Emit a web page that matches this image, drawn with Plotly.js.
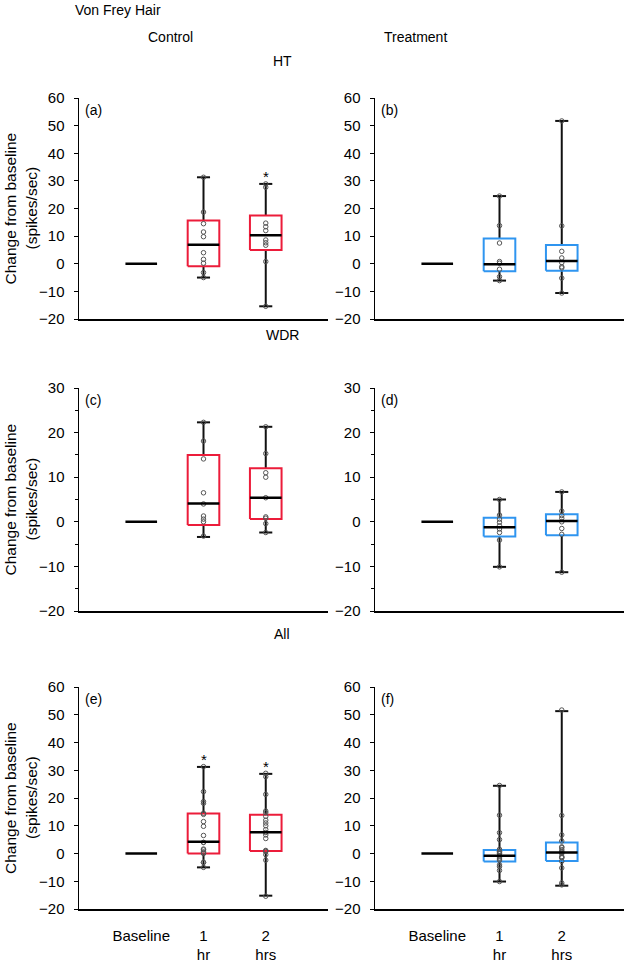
<!DOCTYPE html>
<html>
<head>
<meta charset="utf-8">
<script src="https://cdn.plot.ly/plotly-3.0.1.min.js"></script>
<style>html,body{margin:0;padding:0;background:#fff;}#chart{width:625px;height:964px;}</style>
</head>
<body>
<div id="chart"></div>
<script>
// ---------- DATA ----------
const timepoints = ['Baseline', '1<br>hr', '2<br>hrs'];

// (a) HT - Control
const a_upper  = [0, 31.3, 28.9];
const a_q3     = [0, 15.7, 17.5];
const a_median = [0, 6.9, 10.3];
const a_q1     = [0, -0.9, 5.0];
const a_lower  = [0, -5.0, -15.4];
const a_pts1   = [31.3, 18.7, 14.5, 11.5, 9.8, 4.0, 1.6, 0.2, -3.2, -5.0];
const a_pts2   = [28.9, 27.7, 14.7, 13.4, 12.0, 8.6, 7.6, 6.7, 0.8, -15.4];
const a_star   = [false, false, true];

// (b) HT - Treatment
const b_upper  = [0, 24.5, 51.7];
const b_q3     = [0, 9.1, 6.8];
const b_median = [0, -0.2, 1.0];
const b_q1     = [0, -2.7, -2.5];
const b_lower  = [0, -6.1, -10.6];
const b_pts1   = [24.5, 13.8, 7.5, 0.8, 0.2, -2.0, -4.7, -6.1];
const b_pts2   = [51.7, 13.7, 4.5, 2.1, 0.4, -1.1, -1.5, -5.2, -10.6];
const b_star   = [false, false, false];

// (c) WDR - Control
const c_upper  = [0, 22.3, 21.3];
const c_q3     = [0, 15.0, 12.0];
const c_median = [0, 4.1, 5.4];
const c_q1     = [0, -0.7, 0.6];
const c_lower  = [0, -3.4, -2.4];
const c_pts1   = [22.3, 18.1, 14.1, 6.5, 4.0, 1.3, 0.6, 0.0, -3.2];
const c_pts2   = [21.3, 15.3, 11.0, 10.0, 5.4, 1.1, 0.8, -0.4, -2.4];
const c_star   = [false, false, false];

// (d) WDR - Treatment
const d_upper  = [0, 5.0, 6.7];
const d_q3     = [0, 0.9, 1.7];
const d_median = [0, -1.2, 0.2];
const d_q1     = [0, -3.3, -3.0];
const d_lower  = [0, -10.1, -11.3];
const d_pts1   = [5.0, 1.5, 0.6, -0.1, -0.9, -1.6, -2.4, -4.1, -10.1];
const d_pts2   = [6.7, 2.4, 1.4, 0.8, 0.0, -1.5, -2.8, -11.3];
const d_star   = [false, false, false];

// (e) All - Control (HT + WDR neurons)
const e_upper  = [0, 31.2, 28.7];
const e_q3     = [0, 14.4, 14.0];
const e_median = [0, 4.2, 7.7];
const e_q1     = [0, 0.0, 0.9];
const e_lower  = [0, -5.0, -15.2];
const e_pts1   = a_pts1.concat(c_pts1);
const e_pts2   = a_pts2.concat(c_pts2);
const e_star   = [false, true, true];

// (f) All - Treatment (HT + WDR neurons)
const f_upper  = [0, 24.4, 51.3];
const f_q3     = [0, 1.3, 4.0];
const f_median = [0, -0.8, 0.4];
const f_q1     = [0, -2.9, -2.7];
const f_lower  = [0, -10.1, -11.6];
const f_pts1   = b_pts1.concat(d_pts1);
const f_pts2   = b_pts2.concat(d_pts2);
const f_star   = [false, false, false];

// ---------- STYLE / LAYOUT ----------
const W = 625, H = 964;
const px = v => v / W;
const py = v => 1 - v / H;
const RED = '#ec1c3a', BLUE = '#2f95f0';
const FONT = 'Liberation Sans, Arial, Helvetica, sans-serif';
const BW = 0.254, CW = 0.105;

const colX = [[79, 328], [375, 624]];
const rowY = [[98, 319], [388, 611], [687, 909]];

const panels = [
  {lab:'(a)', up:a_upper, q3:a_q3, med:a_median, q1:a_q1, lo:a_lower, p1:a_pts1, p2:a_pts2, star:a_star, col:0, row:0, color:RED, yr:[-20,60]},
  {lab:'(b)', up:b_upper, q3:b_q3, med:b_median, q1:b_q1, lo:b_lower, p1:b_pts1, p2:b_pts2, star:b_star, col:1, row:0, color:BLUE, yr:[-20,60]},
  {lab:'(c)', up:c_upper, q3:c_q3, med:c_median, q1:c_q1, lo:c_lower, p1:c_pts1, p2:c_pts2, star:c_star, col:0, row:1, color:RED, yr:[-20,30]},
  {lab:'(d)', up:d_upper, q3:d_q3, med:d_median, q1:d_q1, lo:d_lower, p1:d_pts1, p2:d_pts2, star:d_star, col:1, row:1, color:BLUE, yr:[-20,30]},
  {lab:'(e)', up:e_upper, q3:e_q3, med:e_median, q1:e_q1, lo:e_lower, p1:e_pts1, p2:e_pts2, star:e_star, col:0, row:2, color:RED, yr:[-20,60]},
  {lab:'(f)', up:f_upper, q3:f_q3, med:f_median, q1:f_q1, lo:f_lower, p1:f_pts1, p2:f_pts2, star:f_star, col:1, row:2, color:BLUE, yr:[-20,60]}
];

const traces = [];
const annotations = [];
const layout = {
  width: W, height: H,
  margin: {l:0, r:0, t:0, b:0},
  paper_bgcolor: '#fff', plot_bgcolor: '#fff',
  showlegend: false,
  font: {family: FONT, color: '#000', size: 15}
};

panels.forEach((p, k) => {
  const n = k + 1;
  const xa = 'x' + n, ya = 'y' + n;
  const sfx = n === 1 ? '' : String(n);
  const isWDR = p.row === 1;
  layout['xaxis' + sfx] = {
    domain: [px(colX[p.col][0]), px(colX[p.col][1])],
    anchor: ya, range: [-1, 3],
    showline: true, linecolor: '#000', linewidth: 1.5,
    ticks: '', showgrid: false, zeroline: false,
    tickmode: 'array', tickvals: [0, 1, 2], ticktext: timepoints,
    showticklabels: p.row === 2, ticklabelstandoff: 12,
    tickfont: {size: 15, family: FONT, color: '#000'},
    fixedrange: true
  };
  layout['yaxis' + sfx] = {
    domain: [py(rowY[p.row][1]), py(rowY[p.row][0])],
    anchor: xa, range: p.yr,
    showline: true, linecolor: '#000', linewidth: 1.5,
    ticks: 'outside', ticklen: 4, tickwidth: 1, tickcolor: '#000',
    dtick: 10, tick0: 0, showgrid: false, zeroline: false,
    ticklabelstandoff: 6,
    tickfont: {size: 15, family: FONT, color: '#000'},
    minor: isWDR ? {dtick: 5, tick0: 0, ticks: 'outside', ticklen: 3, tickwidth: 1, tickcolor: '#000', showgrid: false} : undefined,
    fixedrange: true
  };

  const wx = [], wy = [];
  const bx = [], by = [];
  const mx = [], my = [];
  for (let i = 0; i < timepoints.length; i++) {
    mx.push(i - BW, i + BW, null); my.push(p.med[i], p.med[i], null);
    if (p.q3[i] > p.q1[i]) {
      wx.push(i, i, null, i, i, null, i - CW, i + CW, null, i - CW, i + CW, null);
      wy.push(p.q3[i], p.up[i], null, p.q1[i], p.lo[i], null, p.up[i], p.up[i], null, p.lo[i], p.lo[i], null);
      bx.push(i - BW, i + BW, i + BW, i - BW, i - BW, null);
      by.push(p.q1[i], p.q1[i], p.q3[i], p.q3[i], p.q1[i], null);
    }
    if (p.star[i]) {
      annotations.push({xref: xa, yref: ya, x: i, y: p.up[i], text: '*', showarrow: false,
        yanchor: 'middle', yshift: 7, font: {size: 15, family: FONT, color: '#000'}});
    }
  }
  traces.push({type:'scatter', mode:'lines', x: wx, y: wy, xaxis: xa, yaxis: ya,
    line: {color:'#111', width: 2}, hoverinfo:'skip'});
  traces.push({type:'scatter', mode:'lines', x: bx, y: by, xaxis: xa, yaxis: ya,
    line: {color: p.color, width: 2}, hoverinfo:'skip'});
  const ptx = p.p1.map(() => 1).concat(p.p2.map(() => 2));
  const pty = p.p1.concat(p.p2);
  traces.push({type:'scatter', mode:'markers', x: ptx, y: pty, xaxis: xa, yaxis: ya,
    marker: {symbol:'circle-open', size: 4.5, color:'#555', line:{width:1, color:'#555'}}, hoverinfo:'y'});
  traces.push({type:'scatter', mode:'lines', x: mx, y: my, xaxis: xa, yaxis: ya,
    line: {color:'#000', width: 2.5}, hoverinfo:'skip'});

  annotations.push({xref:'paper', yref:'paper', x: px(colX[p.col][0] + 4), y: py(rowY[p.row][0] + 12),
    xanchor:'left', yanchor:'middle', text: p.lab, showarrow:false, font:{size:14, family:FONT, color:'#000'}});
  if (p.col === 0) {
    const cy = py((rowY[p.row][0] + rowY[p.row][1]) / 2);
    annotations.push({xref:'paper', yref:'paper', x: px(10), y: cy, xanchor:'center', yanchor:'middle',
      text:'Change from baseline', textangle:-90, showarrow:false, font:{size:15.5, family:FONT, color:'#000'}});
    annotations.push({xref:'paper', yref:'paper', x: px(31), y: cy, xanchor:'center', yanchor:'middle',
      text:'(spikes/sec)', textangle:-90, showarrow:false, font:{size:15.5, family:FONT, color:'#000'}});
  }
});

const heads = [
  {t:'Von Frey Hair', x:73, y:10, xa:'left'},
  {t:'Control', x:170, y:37, xa:'center'},
  {t:'Treatment', x:415, y:37, xa:'center'},
  {t:'HT', x:282, y:61, xa:'center'},
  {t:'WDR', x:282, y:335, xa:'center'},
  {t:'All', x:282, y:634, xa:'center'}
];
heads.forEach(h => annotations.push({xref:'paper', yref:'paper', x: px(h.x), y: py(h.y),
  xanchor: h.xa, yanchor:'middle', text: h.t, showarrow:false, font:{size:14, family:FONT, color:'#000'}}));

layout.annotations = annotations;
Plotly.newPlot('chart', traces, layout, {displayModeBar:false, staticPlot:true});
</script>
</body>
</html>
